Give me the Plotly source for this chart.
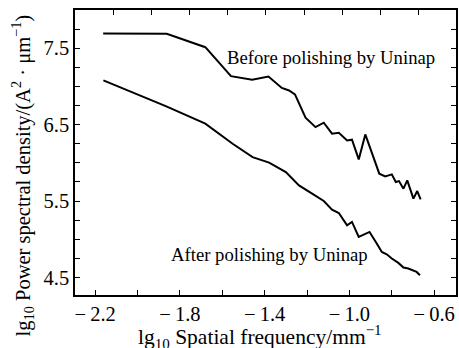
import plotly.graph_objects as go

# lg10 spatial frequency (mm^-1)
before_x = [-2.162, -1.862, -1.680, -1.559, -1.459, -1.382, -1.319, -1.285, -1.257,
            -1.207, -1.160, -1.121, -1.082, -1.050, -1.011, -0.988, -0.956, -0.925,
            -0.859, -0.831, -0.800, -0.781, -0.766, -0.745, -0.727, -0.698, -0.680, -0.664]
before_y = [7.692, 7.690, 7.513, 7.134, 7.087, 7.130, 6.980, 6.947, 6.895,
            6.590, 6.467, 6.525, 6.381, 6.394, 6.293, 6.303, 6.045, 6.372,
            5.858, 5.823, 5.849, 5.748, 5.761, 5.662, 5.770, 5.531, 5.631, 5.522]

after_x = [-2.161, -1.864, -1.680, -1.551, -1.457, -1.379, -1.300, -1.238, -1.176,
           -1.121, -1.082, -1.050, -1.011, -0.988, -0.956, -0.905, -0.871, -0.847,
           -0.824, -0.800, -0.769, -0.745, -0.722, -0.698, -0.683, -0.667]
after_y = [7.078, 6.738, 6.512, 6.250, 6.075, 6.002, 5.879, 5.705, 5.597,
           5.500, 5.388, 5.343, 5.183, 5.226, 5.030, 5.095, 4.943, 4.833,
           4.803, 4.747, 4.690, 4.630, 4.616, 4.585, 4.572, 4.529]

x_tickvals = [-2.2, -1.8, -1.4, -1.0, -0.6]
x_ticktext = ["\u2212\u20092.2", "\u2212\u20091.8", "\u2212\u20091.4", "\u2212\u20091.0", "\u2212\u20090.6"]
top_tickvals = [-2.114, -1.934, -1.754, -1.574, -1.394, -1.214, -1.034, -0.854, -0.674]
y_tickvals = [4.5, 5.5, 6.5, 7.5]
y_ticktext = ["4.5", "5.5", "6.5", "7.5"]

label_before = "Before polishing by Uninap"
label_after = "After polishing by Uninap"
x_title = "lg<sub>10</sub> Spatial frequency/mm<sup>\u22121</sup>"
y_title = "lg<sub>10</sub> Power spectral density/(A<sup>2</sup> \u00b7 \u03bcm<sup>\u22121</sup>)"

FONT = "Liberation Serif, Times New Roman, serif"
X_RANGE = [-2.295, -0.497]

fig = go.Figure()
fig.add_trace(go.Scatter(x=before_x, y=before_y, mode="lines",
                         line=dict(color="black", width=2), showlegend=False))
fig.add_trace(go.Scatter(x=after_x, y=after_y, mode="lines",
                         line=dict(color="black", width=2), showlegend=False))
# invisible trace to activate the top tick axis
fig.add_trace(go.Scatter(x=[], y=[], xaxis="x2", showlegend=False, hoverinfo="skip"))

fig.add_annotation(x=-1.088, y=7.38, text=label_before, showarrow=False,
                   font=dict(family=FONT, size=18.7, color="black"))
fig.add_annotation(x=-1.376, y=4.797, text=label_after, showarrow=False,
                   font=dict(family=FONT, size=18.7, color="black"))

# axis titles placed as annotations (centered on page like the reference)
fig.add_annotation(xref="paper", yref="paper", x=-0.138, y=0.421, text=y_title,
                   textangle=-90, showarrow=False, xanchor="center", yanchor="middle",
                   font=dict(family=FONT, size=20.5, color="black"))
fig.add_annotation(xref="paper", yref="paper", x=0.486, y=-0.147, text=x_title,
                   showarrow=False, xanchor="center", yanchor="middle",
                   font=dict(family=FONT, size=21.5, color="black"))

tick_style = dict(ticks="inside", ticklen=5, tickwidth=1.2, tickcolor="black")

fig.update_layout(
    width=459, height=348, margin=dict(l=75, r=1, t=10, b=53),
    plot_bgcolor="white", paper_bgcolor="white",
    font=dict(family=FONT, color="black"),
    xaxis=dict(range=X_RANGE, tickvals=x_tickvals, ticktext=x_ticktext,
               showgrid=False, zeroline=False, showline=True, linecolor="black",
               linewidth=1.5, mirror=True,
               tickfont=dict(family=FONT, size=20.5, color="black"),
               minor=dict(dtick=0.2, tick0=-2.2, **tick_style), **tick_style),
    xaxis2=dict(range=X_RANGE, overlaying="x", side="top", tickvals=top_tickvals,
                showticklabels=False, showgrid=False, zeroline=False, showline=False,
                **tick_style),
    yaxis=dict(range=[4.27, 8.0], tickvals=y_tickvals, ticktext=y_ticktext,
               showgrid=False, zeroline=False, showline=True, linecolor="black",
               linewidth=1.5, mirror="allticks",
               tickfont=dict(family=FONT, size=20.5, color="black"),
               minor=dict(dtick=0.25, tick0=4.5, **tick_style), **tick_style),
)

fig.write_html("out.html")
